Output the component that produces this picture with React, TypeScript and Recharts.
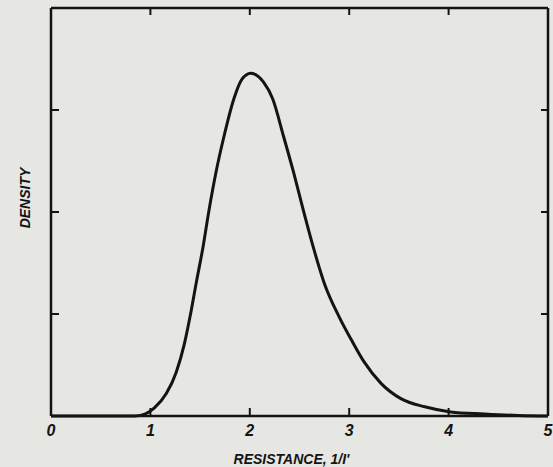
import { LineChart, Line, XAxis, YAxis } from 'recharts';

// values
const resistance = [0, 0.85, 0.95, 1.04, 1.16, 1.26, 1.34, 1.4, 1.46, 1.53, 1.59, 1.66, 1.74, 1.84, 1.92, 2.01, 2.14, 2.23, 2.34, 2.44, 2.535, 2.64, 2.75, 2.9, 3.02, 3.15, 3.32, 3.52, 3.76, 4.02, 4.36, 4.7, 5];
const density = [0, 0, 0.02, 0.08, 0.22, 0.43, 0.7, 0.98, 1.3, 1.66, 2.02, 2.39, 2.74, 3.11, 3.3, 3.36, 3.27, 3.11, 2.74, 2.39, 2.03, 1.65, 1.3, 0.97, 0.75, 0.53, 0.32, 0.17, 0.09, 0.04, 0.02, 0.005, 0];
const xTicks = [0, 1, 2, 3, 4, 5];
const yTicks = [0, 1, 2, 3, 4];

const data = resistance.map((r, i) => ({ r, d: density[i] }));

const INK = '#141414';
const FONT = '"Liberation Sans", Arial, sans-serif';

const BottomTick = ({ x, y, payload }: any) => {
  const v = payload.value;
  return (
    <g>
      {v > 0 && v < 5 && <line x1={x} x2={x} y1={y} y2={y - 8} stroke={INK} strokeWidth={2} />}
      <text x={x} y={y + 20} textAnchor="middle" fill={INK} fontFamily={FONT} fontSize={16} fontWeight="bold" fontStyle="italic">
        {v}
      </text>
    </g>
  );
};

const LeftTick = ({ x, y, payload }: any) => {
  const v = payload.value;
  if (v <= 0 || v >= 4) return <g />;
  return <line x1={x} x2={x + 8} y1={y} y2={y} stroke={INK} strokeWidth={2} />;
};

export default function App() {
  return (
    <div style={{ position: 'absolute', left: 0, top: 0, width: 553, height: 467, background: '#e6e6e3' }}>
      <LineChart width={553} height={467} data={data} margin={{ top: 8, right: 5, left: 0, bottom: 0 }}>
        <XAxis
          dataKey="r"
          type="number"
          domain={[0, 5]}
          ticks={xTicks}
          height={51}
          tickLine={false}
          tickSize={0}
          tickMargin={0}
          axisLine={{ stroke: INK, strokeWidth: 2.5 }}
          tick={BottomTick}
          label={{ value: "RESISTANCE, 1/I'", position: 'insideBottom', offset: 3, fill: INK, fontFamily: FONT, fontSize: 14, fontWeight: 'bold', fontStyle: 'italic', dx: -8 }}
        />
        <XAxis
          xAxisId="top"
          dataKey="r"
          orientation="top"
          type="number"
          domain={[0, 5]}
          ticks={[1, 2, 3, 4]}
          height={1}
          mirror
          tickSize={7}
          tickLine={{ stroke: INK, strokeWidth: 2 }}
          axisLine={{ stroke: INK, strokeWidth: 2.5 }}
          tick={() => <g />}
        />
        <YAxis
          type="number"
          domain={[0, 4]}
          ticks={yTicks}
          width={51}
          tickLine={false}
          tickSize={0}
          tickMargin={0}
          axisLine={{ stroke: INK, strokeWidth: 2.5 }}
          tick={LeftTick}
        />
        <YAxis
          yAxisId="right"
          orientation="right"
          type="number"
          domain={[0, 4]}
          ticks={[1, 2, 3]}
          width={1}
          mirror
          tickSize={7}
          tickLine={{ stroke: INK, strokeWidth: 2 }}
          axisLine={{ stroke: INK, strokeWidth: 2.5 }}
          tick={() => <g />}
        />
        <text x={26} y={198} transform="rotate(-90 26 198)" textAnchor="middle" dominantBaseline="middle" fill={INK} fontFamily={FONT} fontSize={14} fontWeight="bold" fontStyle="italic">
          DENSITY
        </text>
        {/* invisible copy so the top and right frame axes get drawn */}
        <Line
          xAxisId="top"
          yAxisId="right"
          type="monotone"
          dataKey="d"
          stroke="none"
          dot={false}
          isAnimationActive={false}
        />
        <Line
          type="monotone"
          dataKey="d"
          stroke={INK}
          strokeWidth={3}
          dot={false}
          isAnimationActive={false}
        />
      </LineChart>
    </div>
  );
}
